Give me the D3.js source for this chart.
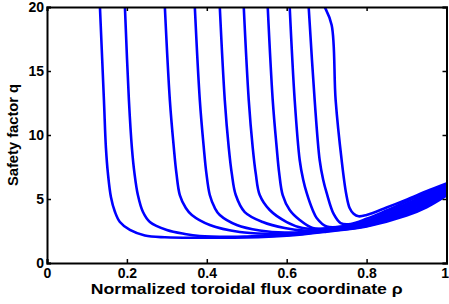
<!DOCTYPE html>
<html>
<head>
<meta charset="utf-8">
<script src="https://cdn.jsdelivr.net/npm/d3@7"></script>
<style>
  body { margin: 0; background: #fff; }
  text { font-family: "Liberation Sans", Arial, sans-serif; font-weight: bold; fill: #000; }
</style>
</head>
<body>
<div id="graph"></div>
<script>
// q profiles, one per time slice (rho, q)
var rhoTicks = [0, 0.2, 0.4, 0.6, 0.8, 1];
var qTicks = [0, 5, 10, 15, 20];

var rho1 = [0.1325, 0.1425, 0.1475, 0.1525, 0.16, 0.17, 0.1825, 0.2075, 0.245, 0.295, 0.4, 0.5, 0.6, 0.7, 0.8, 0.9, 0.95, 1.0];
var q1 = [20, 12.73, 9, 7, 5.16, 4, 3.2, 2.58, 2.15, 2.01, 1.97, 1.99, 2.13, 2.45, 2.85, 3.7, 4.35, 5.27];
var rho2 = [0.195, 0.205, 0.2125, 0.219, 0.2275, 0.24, 0.2575, 0.3, 0.345, 0.3825, 0.4575, 0.5, 0.6, 0.7, 0.8, 0.9, 0.95, 1.0];
var q2 = [20, 12.73, 9, 7, 5.31, 4, 3.2, 2.58, 2.27, 2.11, 2.05, 2.07, 2.18, 2.48, 2.9, 3.83, 4.48, 5.37];
var rho3 = [0.295, 0.3075, 0.3175, 0.324, 0.3325, 0.3475, 0.3625, 0.4075, 0.4825, 0.5575, 0.6, 0.7, 0.8, 0.9, 0.95, 1.0];
var q3 = [20, 12.73, 9, 7, 5.31, 4.3, 3.75, 2.97, 2.42, 2.27, 2.26, 2.52, 2.96, 3.96, 4.62, 5.47];
var rho4 = [0.37, 0.3825, 0.3925, 0.399, 0.4075, 0.42, 0.4325, 0.475, 0.5325, 0.595, 0.7, 0.8, 0.9, 0.95, 1.0];
var q4 = [20, 12.73, 9, 7, 5.31, 4.3, 3.75, 2.97, 2.54, 2.38, 2.58, 3.02, 4.1, 4.76, 5.58];
var rho5 = [0.4325, 0.445, 0.455, 0.4625, 0.4725, 0.495, 0.54, 0.595, 0.645, 0.7, 0.8, 0.9, 0.95, 1.0];
var q5 = [20, 12.73, 9, 7, 5.31, 3.98, 3.2, 2.73, 2.54, 2.62, 3.08, 4.23, 4.9, 5.68];
var rho6 = [0.4925, 0.505, 0.515, 0.5225, 0.5325, 0.5575, 0.6, 0.64, 0.7, 0.8, 0.9, 0.95, 1.0];
var q6 = [20, 12.73, 9, 7, 5.31, 4.14, 3.2, 2.73, 2.68, 3.15, 4.36, 5.04, 5.78];
var rho7 = [0.5525, 0.565, 0.575, 0.5813, 0.59, 0.6075, 0.6325, 0.665, 0.7, 0.8, 0.9, 0.95, 1.0];
var q7 = [20, 12.73, 9, 7, 5.31, 4.14, 3.36, 2.73, 2.72, 3.22, 4.5, 5.18, 5.88];
var rho8 = [0.6075, 0.62, 0.6325, 0.6413, 0.65, 0.665, 0.675, 0.7, 0.75, 0.8, 0.85, 0.9, 0.95, 1.0];
var q8 = [20, 12.73, 8.05, 6.5, 5.47, 4.14, 3.52, 2.85, 2.9, 3.3, 3.95, 4.64, 5.32, 5.98];
var rho9 = [0.655, 0.67, 0.6825, 0.6913, 0.7, 0.7175, 0.735, 0.76, 0.8, 0.85, 0.9, 0.95, 1.0];
var q9 = [20, 12.73, 8.05, 6.5, 5.47, 3.83, 3.12, 3.05, 3.45, 4.1, 4.8, 5.46, 6.1];
var rho10 = [0.68, 0.695, 0.7125, 0.7225, 0.7375, 0.749, 0.7575, 0.7675, 0.78, 0.8, 0.85, 0.9, 0.95, 1.0];
var q10 = [20.8, 20, 18.6, 12.73, 8.05, 5.39, 4.3, 3.85, 3.65, 3.75, 4.33, 4.95, 5.6, 6.21];

var rhoList = [rho1, rho2, rho3, rho4, rho5, rho6, rho7, rho8, rho9, rho10];
var qList = [q1, q2, q3, q4, q5, q6, q7, q8, q9, q10];

var W = 449, H = 304;
var margin = { top: 7, right: 2.5, bottom: 41, left: 47 },
  width = W - margin.left - margin.right,
  height = H - margin.top - margin.bottom;

var x = d3.scaleLinear().domain([0, 1]).range([0, width]);
var y = d3.scaleLinear().domain([0, 20]).range([height, 0]);

var svg = d3
  .select("div#graph")
  .append("svg")
  .attr("width", W)
  .attr("height", H);

var g = svg.append("g").attr("transform", "translate(" + margin.left + "," + margin.top + ")");

g.append("clipPath")
  .attr("id", "clip")
  .append("rect")
  .attr("width", width)
  .attr("height", height);

var line = d3
  .line()
  .x(function (d) { return x(d[0]); })
  .y(function (d) { return y(d[1]); })
  .curve(d3.curveCatmullRom.alpha(0.5));

var profiles = rhoList.map(function (r, i) {
  return r.map(function (v, j) { return [v, qList[i][j]]; });
});

g.append("g")
  .attr("clip-path", "url(#clip)")
  .selectAll("path")
  .data(profiles)
  .enter()
  .append("path")
  .attr("d", line)
  .style("fill", "none")
  .style("stroke", "#0000ff")
  .style("stroke-width", 2.6)
  .style("stroke-linejoin", "round");

// axes, matlab style: ticks inside, box all round
var xAxis = d3.axisBottom(x).tickValues(rhoTicks).tickSize(-4).tickPadding(5)
  .tickFormat(function (d) { return d3.format("")(d); });
var yAxis = d3.axisLeft(y).tickValues(qTicks).tickSize(-4).tickPadding(3);

var gx = g.append("g").attr("transform", "translate(0," + height + ")").call(xAxis);
var gy = g.append("g").call(yAxis);
g.append("g").call(d3.axisTop(x).tickValues(rhoTicks).tickSize(-4).tickFormat(""));
g.append("g").attr("transform", "translate(" + width + ",0)")
  .call(d3.axisRight(y).tickValues(qTicks).tickSize(-4).tickFormat(""));

g.selectAll(".domain").style("stroke", "#000").style("stroke-width", 2);
g.selectAll(".tick line").style("stroke", "#000").style("stroke-width", 1.5);
g.selectAll(".tick text").style("font-size", "14px").style("font-family", "Liberation Sans, Arial, sans-serif").style("font-weight", "bold");
// last x label sits just inside the box edge
gx.selectAll(".tick text").filter(function (d) { return d === 1; }).attr("text-anchor", "end").attr("x", 2);

svg.append("text")
  .attr("x", margin.left + width / 2)
  .attr("y", 294)
  .attr("text-anchor", "middle")
  .attr("textLength", 312)
  .attr("lengthAdjust", "spacingAndGlyphs")
  .style("font-size", "15px")
  .text("Normalized toroidal flux coordinate \u03c1");

svg.append("text")
  .attr("transform", "translate(18," + (margin.top + height / 2) + ") rotate(-90)")
  .attr("text-anchor", "middle")
  .attr("textLength", 102)
  .attr("lengthAdjust", "spacingAndGlyphs")
  .style("font-size", "14px")
  .text("Safety factor q");
</script>
</body>
</html>
